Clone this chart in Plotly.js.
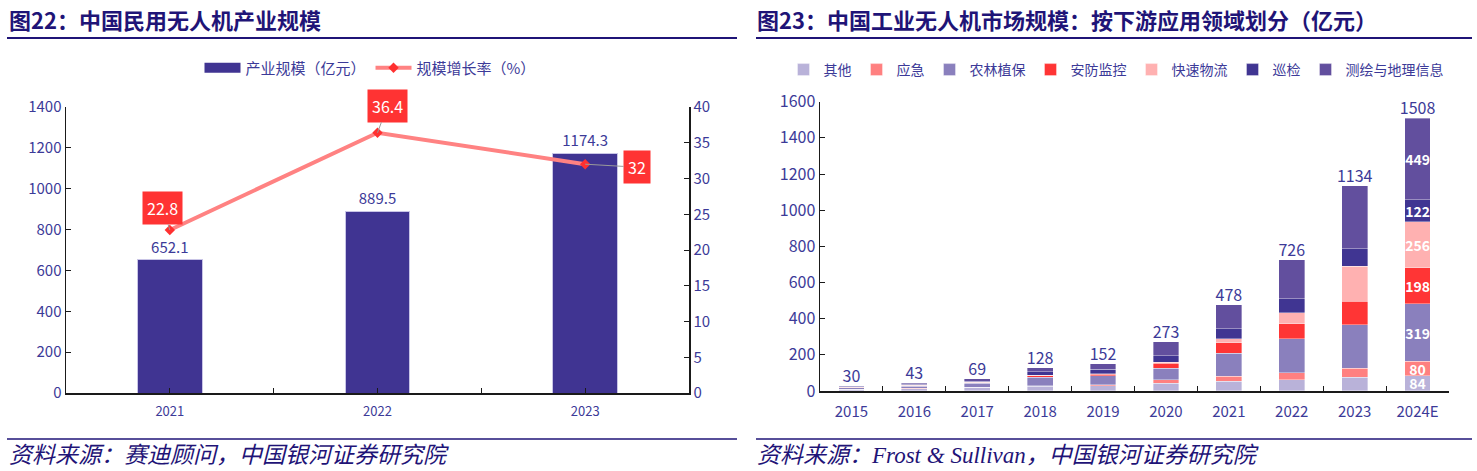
<!DOCTYPE html>
<html>
<head>
<meta charset="utf-8">
<script src="https://cdn.plot.ly/plotly-3.0.1.min.js"></script>
<style>
  html, body { margin: 0; padding: 0; background: #ffffff; }
  #chart { width: 1477px; height: 471px; }
</style>
</head>
<body>
<div id="chart"></div>
<script>
// ---------- Chart 1 data: 中国民用无人机产业规模 ----------
const years1 = ['2021', '2022', '2023'];
const marketSize = [652.1, 889.5, 1174.3];      // 产业规模（亿元）
const growthRate = [22.8, 36.4, 32];            // 规模增长率（%）

// ---------- Chart 2 data: 中国工业无人机市场规模 ----------
const years2 = ['2015', '2016', '2017', '2018', '2019', '2020', '2021', '2022', '2023', '2024E'];
const other      = [9, 13, 20, 27, 29, 43, 55, 61, 76, 84];        // 其他
const emergency  = [1, 2, 2, 2, 6, 18, 26, 40, 51, 80];            // 应急
const agri       = [9, 12, 20, 47, 48, 65, 129, 188, 240, 319];    // 农林植保
const security   = [2, 3, 4, 9, 9, 27, 57, 83, 129, 198];          // 安防监控
const logistics  = [1, 1, 2, 3, 4, 6, 22, 61, 195, 256];           // 快速物流
const inspection = [3, 5, 7, 19, 24, 36, 56, 77, 96, 122];         // 巡检
const mapping    = [5, 7, 14, 21, 32, 78, 133, 216, 347, 449];     // 测绘与地理信息
const totals2    = [30, 43, 69, 128, 152, 273, 478, 726, 1134, 1508];

// ---------- styles ----------
const FONT = 'Noto Sans CJK SC, Liberation Sans, sans-serif';
const TXT = '#3c3a98';
const NAVY = '#1f1477';
const BAR1 = '#403492';
const W = 1477, H = 471;
const px = v => v / W;
const py = v => (H - v) / H;

const series2 = [
  {name: '其他', values: other, color: '#b9b2d9'},
  {name: '应急', values: emergency, color: '#ff8080'},
  {name: '农林植保', values: agri, color: '#8a80bd'},
  {name: '安防监控', values: security, color: '#ff3535'},
  {name: '快速物流', values: logistics, color: '#ffb1b1'},
  {name: '巡检', values: inspection, color: '#403592'},
  {name: '测绘与地理信息', values: mapping, color: '#624f9e'}
];

const traces = [];

// Chart 1 bars
traces.push({
  type: 'bar', x: years1, y: marketSize, name: '产业规模（亿元）',
  xaxis: 'x', yaxis: 'y', showlegend: false,
  marker: {color: BAR1, line: {color: '#c9c5e6', width: 1}},
  width: 0.31,
  text: marketSize.map(v => v.toFixed(1)), textposition: 'outside',
  textfont: {family: FONT, size: 15, color: TXT},
  cliponaxis: false, hoverinfo: 'skip'
});
// legend proxy giving the wide rectangular swatch of the bar series
traces.push({
  type: 'scatter', mode: 'lines', x: [years1[0]], y: [null], name: '产业规模（亿元）',
  xaxis: 'x', yaxis: 'y', legend: 'legend',
  line: {color: BAR1, width: 11}, hoverinfo: 'skip'
});
// Chart 1 line
traces.push({
  type: 'scatter', mode: 'lines+markers', x: years1, y: growthRate, name: '规模增长率（%）',
  xaxis: 'x', yaxis: 'y2', legend: 'legend',
  line: {color: '#ff8282', width: 4},
  marker: {symbol: 'diamond', color: '#ff3030', size: 8},
  cliponaxis: false, hoverinfo: 'skip'
});
// invisible helper trace so the overlay axis (boundary ticks) knows the categories
traces.push({
  type: 'scatter', mode: 'markers', x: years1, y: years1.map(() => null),
  xaxis: 'x2', yaxis: 'y', showlegend: false, hoverinfo: 'skip',
  marker: {opacity: 0}
});

// Chart 2 stacked bars
series2.forEach(s => {
  const last = s.values.length - 1;
  traces.push({
    type: 'bar', x: years2, y: s.values, name: s.name,
    xaxis: 'x3', yaxis: 'y3', legend: 'legend2',
    marker: {color: s.color, line: {color: 'rgba(255,255,255,0.45)', width: 0.8}},
    width: 0.41,
    text: s.values.map((v, i) => i === last ? String(v) : ''),
    textposition: 'inside', insidetextanchor: 'middle', constraintext: 'none', textangle: 0,
    textfont: {family: FONT, size: 14, color: '#ffffff', weight: 700},
    hoverinfo: 'skip'
  });
});
// Chart 2 totals
traces.push({
  type: 'scatter', mode: 'text', x: years2, y: totals2, text: totals2.map(String),
  textposition: 'top center', xaxis: 'x3', yaxis: 'y3', showlegend: false,
  textfont: {family: FONT, size: 16, color: TXT}, cliponaxis: false, hoverinfo: 'skip'
});

// Line label annotations (red boxes); x given as category index
const labelOffsets = [[-7, -22], [10, -27], [52, 3]];
const annotations = growthRate.map((v, i) => ({
  x: i, y: v, xref: 'x', yref: 'y2',
  text: String(v), showarrow: true, arrowhead: 0, arrowwidth: 1, arrowcolor: '#9a9a9a',
  ax: labelOffsets[i][0], ay: labelOffsets[i][1], standoff: 0,
  bgcolor: '#ff3333', borderpad: 4,
  font: {family: FONT, size: 16, color: '#ffffff'}
}));

// Titles and sources
annotations.push(
  {text: '<b>图22：中国民用无人机产业规模</b>', xref: 'paper', yref: 'paper', x: px(7), y: py(19),
   xanchor: 'left', yanchor: 'middle', showarrow: false, font: {family: FONT, size: 22, color: NAVY}},
  {text: '<b>图23：中国工业无人机市场规模：按下游应用领域划分（亿元）</b>', xref: 'paper', yref: 'paper', x: px(755), y: py(19),
   xanchor: 'left', yanchor: 'middle', showarrow: false, font: {family: FONT, size: 22, color: NAVY}},
  {text: '<i>资料来源：赛迪顾问，中国银河证券研究院</i>', xref: 'paper', yref: 'paper', x: px(7), y: py(455),
   xanchor: 'left', yanchor: 'middle', showarrow: false, font: {family: 'Liberation Serif, Noto Sans CJK SC', size: 23, color: NAVY}},
  {text: '<i>资料来源：Frost &amp; Sullivan，中国银河证券研究院</i>', xref: 'paper', yref: 'paper', x: px(755), y: py(455),
   xanchor: 'left', yanchor: 'middle', showarrow: false, font: {family: 'Liberation Serif, Noto Sans CJK SC', size: 23, color: NAVY}}
);

const shapes = [
  {type: 'line', xref: 'paper', yref: 'paper', x0: px(7), x1: px(737), y0: py(38), y1: py(38), line: {color: NAVY, width: 2}},
  {type: 'line', xref: 'paper', yref: 'paper', x0: px(756), x1: px(1472), y0: py(38), y1: py(38), line: {color: NAVY, width: 2}},
  {type: 'line', xref: 'paper', yref: 'paper', x0: px(7), x1: px(737), y0: py(439), y1: py(439), line: {color: NAVY, width: 1.5}},
  {type: 'line', xref: 'paper', yref: 'paper', x0: px(756), x1: px(1472), y0: py(439), y1: py(439), line: {color: NAVY, width: 1.5}}
];

const axisBase = {
  showgrid: false, zeroline: false, showline: true, linecolor: '#1a1a1a', linewidth: 1.5,
  ticks: 'inside', ticklen: 5, tickcolor: '#1a1a1a', tickwidth: 1,
  tickfont: {family: FONT, size: 15, color: TXT}, fixedrange: true
};

const range1 = [-0.5, years1.length - 0.5];

const layout = {
  width: W, height: H,
  margin: {l: 0, r: 0, t: 0, b: 0},
  paper_bgcolor: '#ffffff', plot_bgcolor: 'rgba(0,0,0,0)',
  barmode: 'stack',
  showlegend: true,
  font: {family: FONT, color: TXT},
  xaxis: Object.assign({}, axisBase, {
    domain: [px(66), px(689)], anchor: 'y', type: 'category', range: range1,
    ticklabelstandoff: 6,
    tickfont: {family: FONT, size: 13, color: TXT}
  }),
  xaxis2: Object.assign({}, axisBase, {
    domain: [px(66), px(689)], anchor: 'y', overlaying: 'x', type: 'category', range: range1,
    tickson: 'boundaries', showticklabels: false, showline: false
  }),
  yaxis: Object.assign({}, axisBase, {
    domain: [py(393), py(107)], anchor: 'x', range: [0, 1400], dtick: 200,
    tickfont: {family: FONT, size: 15, color: TXT}
  }),
  yaxis2: Object.assign({}, axisBase, {
    domain: [py(393), py(107)], anchor: 'x', overlaying: 'y', side: 'right',
    range: [0, 40], dtick: 5,
    tickfont: {family: FONT, size: 15, color: TXT}
  }),
  xaxis3: Object.assign({}, axisBase, {
    domain: [px(820), px(1449)], anchor: 'y3', type: 'category',
    range: [-0.5, years2.length - 0.5],
    tickson: 'boundaries', ticklabelstandoff: 6
  }),
  yaxis3: Object.assign({}, axisBase, {
    domain: [py(391), py(101.7)], anchor: 'x3', range: [0, 1600], dtick: 200,
    tickfont: {family: FONT, size: 16, color: TXT}
  }),
  legend: {
    orientation: 'h', x: px(370), xanchor: 'center', y: py(68), yanchor: 'middle',
    font: {family: FONT, size: 15, color: TXT}, bgcolor: 'rgba(0,0,0,0)', traceorder: 'normal',
    itemwidth: 36
  },
  legend2: {
    orientation: 'h', x: px(1116), xanchor: 'center', y: py(70), yanchor: 'middle',
    font: {family: FONT, size: 14, color: TXT}, bgcolor: 'rgba(0,0,0,0)', traceorder: 'normal',
    itemwidth: 30
  },
  annotations: annotations,
  shapes: shapes
};

Plotly.newPlot('chart', traces, layout, {displayModeBar: false, staticPlot: true});
</script>
</body>
</html>
